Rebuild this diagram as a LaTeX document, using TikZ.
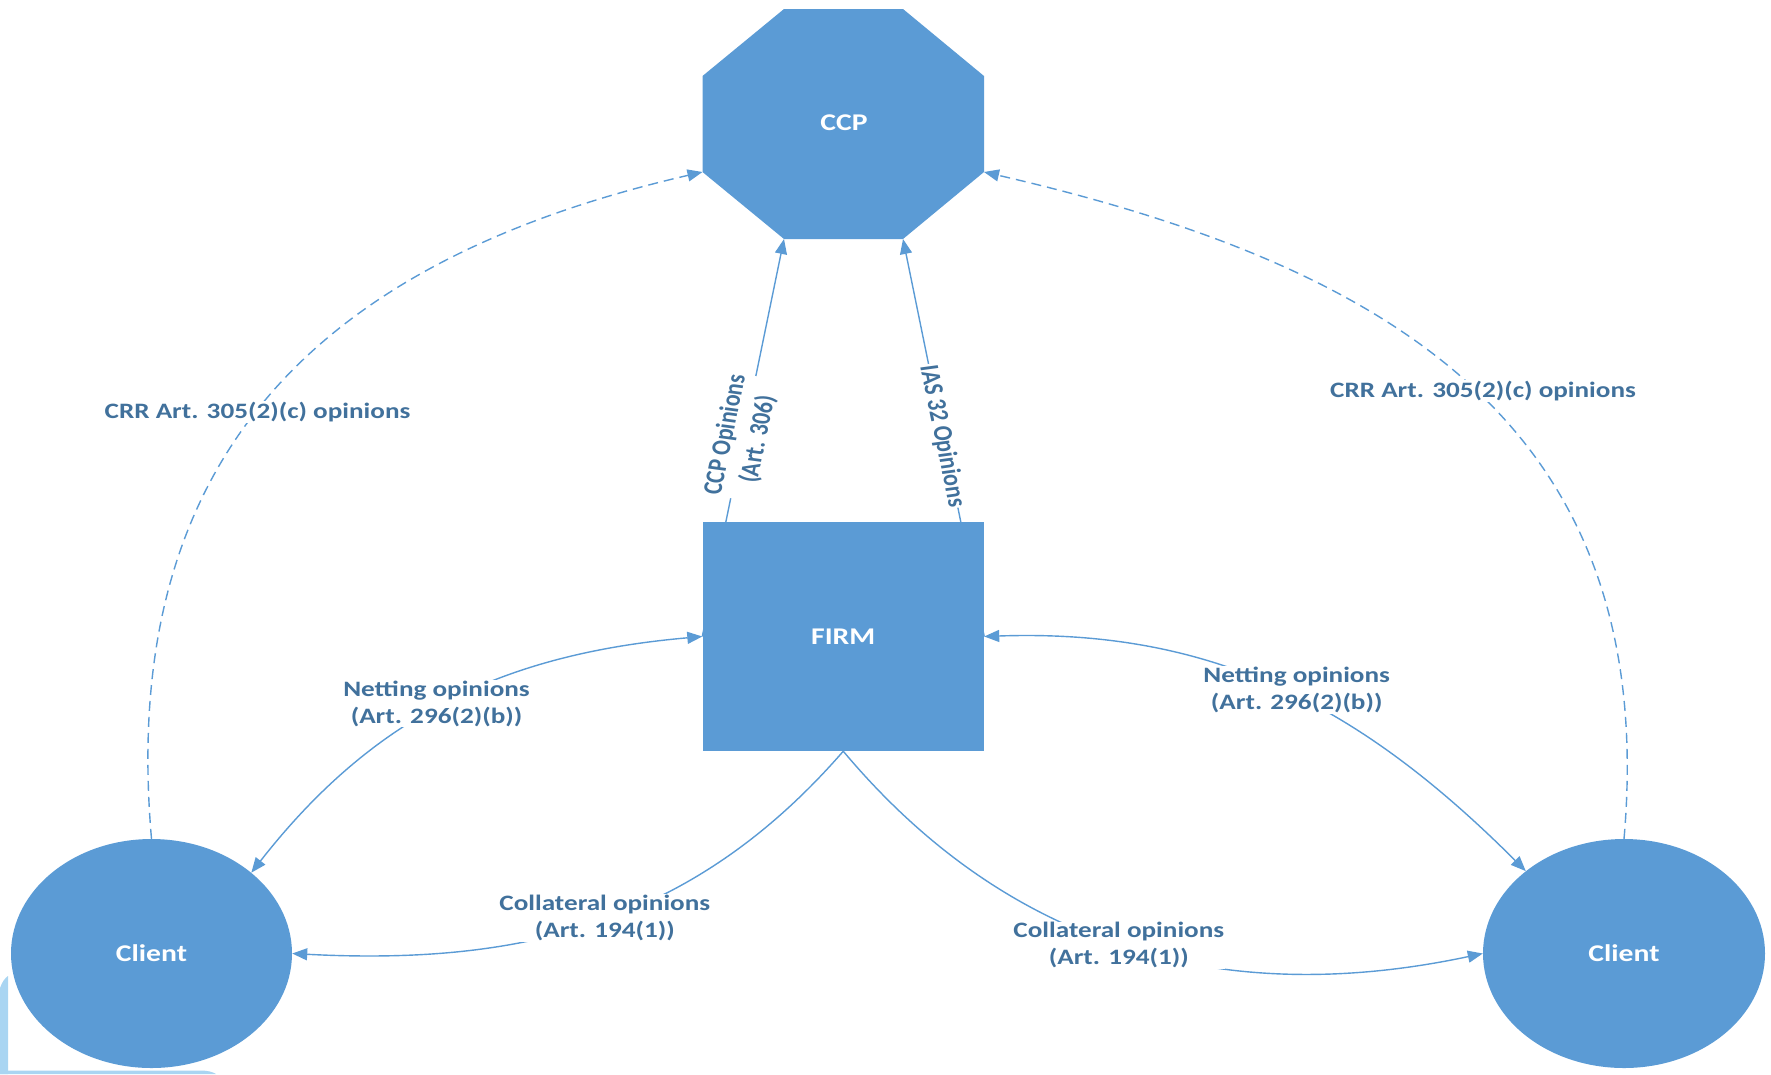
\documentclass[tikz,border=0pt]{standalone}
\usepackage{fontspec}
\setmainfont{Carlito}[FakeStretch=1.235]
\newfontfamily\narrowfont{Carlito}
\usetikzlibrary{arrows.meta,shapes.geometric}
\definecolor{shapeblue}{HTML}{5B9BD5}
\definecolor{labelblue}{HTML}{41719C}
\definecolor{paleblue}{HTML}{A9D5F2}
\begin{document}
\begin{tikzpicture}[x=1pt,y=1pt,
  shapetext/.style={text=white, font=\bfseries\fontsize{24}{28}\selectfont, inner sep=0pt},
  blob/.style={shapetext, fill=shapeblue, draw=none},
  link/.style={draw=shapeblue, line width=1.4pt},
  dashlink/.style={link, dash pattern=on 10pt off 6pt},
  tip/.style={-{Triangle[length=15pt,width=12pt]}},
  bothtips/.style={{Triangle[length=15pt,width=12pt]}-{Triangle[length=15pt,width=12pt]}},
  lbl/.style={fill=white, text=labelblue, align=center, inner sep=1pt,
              font=\bfseries\fontsize{22}{27}\selectfont},
  slopedlbl/.style={lbl, font=\narrowfont\bfseries\fontsize{22}{27}\selectfont}
]
\useasboundingbox (0,0) rectangle (1771,-1074);

% pale frame peeking out at the lower left
\fill[paleblue] (0,-988) .. controls (2,-982) and (5,-978) .. (8,-976) -- (8,-1074) -- (0,-1074) -- cycle;
\fill[paleblue] (0,-1070.5) -- (200,-1070.5) .. controls (208,-1070.5) and (213,-1072) .. (216,-1074) -- (0,-1074) -- cycle;

% CCP octagon
\coordinate (o1) at (784,-9);
\coordinate (o2) at (903,-9);
\coordinate (o3) at (984,-76);
\coordinate (o4) at (984,-172);
\coordinate (o5) at (903,-239);
\coordinate (o6) at (784,-239);
\coordinate (o7) at (702.5,-172);
\coordinate (o8) at (702.5,-76);
\fill[shapeblue] (o1) -- (o2) -- (o3) -- (o4) -- (o5) -- (o6) -- (o7) -- (o8) -- cycle;
\node[shapetext] (ccp) at (844,-123) {CCP};

% firm and clients
\node[blob, rectangle, minimum width=281.5pt, minimum height=229pt] (firm) at (843.25,-636.5) {FIRM};
\node[blob, ellipse, minimum width=281pt, minimum height=229pt] (clientL) at (151.5,-953.5) {Client};
\node[blob, ellipse, minimum width=282pt, minimum height=229pt] (clientR) at (1624,-953.5) {Client};

% dashed connectors to the CCP
\draw[dashlink, tip] (clientL.north) to[out=95, in=193, looseness=1.15] (o7);
\draw[dashlink, tip] (clientR.north) to[out=85, in=-13, looseness=1.15] (o4);

% firm to CCP
\draw[link, tip] (firm.west) -- (o6);
\draw[link, tip] (firm.east) -- (o5);

% netting
\draw[link, bothtips] (clientL.39) to[out=52, in=185] (firm.west);
\draw[link, bothtips] (firm.east) to[out=2, in=135] (clientR.140);

% collateral
\draw[link, tip] (firm.south) to[out=229, in=-3] (clientL.east);
\draw[link, tip] (firm.south) to[out=-50, in=192] (clientR.west);

% labels
\node[lbl] (crrL) at (257.5,-412) {CRR Art. 305(2)(c) opinions};
\node[lbl] (crrR) at (1483,-391) {CRR Art. 305(2)(c) opinions};
\node[lbl] (netL) at (436.5,-703.5) {Netting opinions\\(Art. 296(2)(b))};
\node[lbl] (netR) at (1296.7,-690) {Netting opinions\\(Art. 296(2)(b))};
\node[lbl] (colL) at (604.8,-918) {Collateral opinions\\(Art. 194(1))};
\node[lbl] (colR) at (1118.8,-945.4) {Collateral opinions\\(Art. 194(1))};
\begin{scope}[xscale=1.235]
  \node[slopedlbl, transform shape, rotate=80.5] (ccpop) at (600.8,-437) {CCP Opinions\\(Art. 306)};
  \node[slopedlbl, transform shape, rotate=-80.5] (iasop) at (762.8,-436) {IAS 32 Opinions};
\end{scope}
\end{tikzpicture}
\end{document}
